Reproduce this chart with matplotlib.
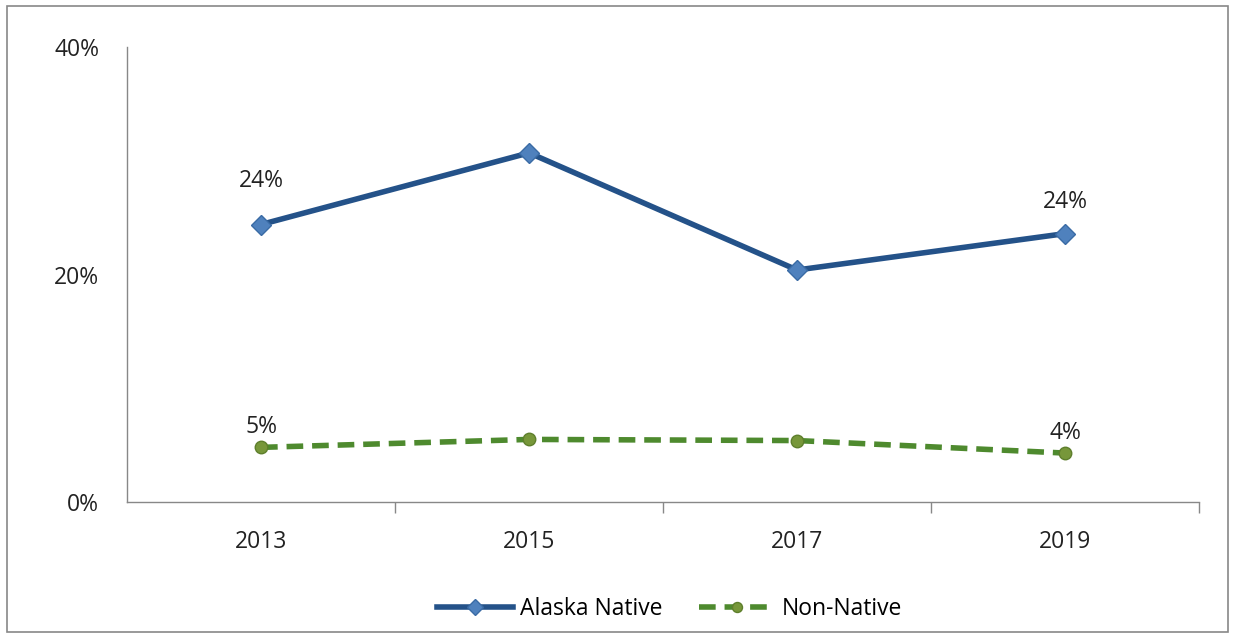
import matplotlib.pyplot as plt
from matplotlib.patches import Rectangle
from matplotlib.ticker import FuncFormatter

plt.rcParams['font.family'] = ['Open Sans', 'DejaVu Sans']

years = ['2013', '2015', '2017', '2019']
alaska_native = [24.4, 30.7, 20.4, 23.6]
non_native = [4.8, 5.5, 5.4, 4.3]
alaska_labels = ['24%', '', '', '24%']
non_native_labels = ['5%', '', '', '4%']

fig = plt.figure(figsize=(12.33, 6.37), dpi=100)
ax = fig.add_axes([0.103, 0.212, 0.8695, 0.714])

x = list(range(len(years)))
ax.plot(x, alaska_native, color='#245289', lw=4, marker='D', ms=10,
        mfc='#4F81BD', mec='#3A6BA5', label='Alaska Native', zorder=3)
ax.plot(x, non_native, color='#4E8A2E', lw=4, ls=(0, (3, 1.6)), marker='o', ms=9,
        mfc='#77973A', mec='#5E7F2C', label='Non-Native', zorder=3)

# label offsets (points) above each marker
alaska_off = [23, 0, 0, 14]
for xi, v, t, off in zip(x, alaska_native, alaska_labels, alaska_off):
    if t:
        ax.annotate(t, (xi, v), xytext=(0, off), textcoords='offset points',
                    ha='center', va='bottom', fontsize=16.5, color='#222222')
for xi, v, t in zip(x, non_native, non_native_labels):
    if t:
        ax.annotate(t, (xi, v), xytext=(0, 6), textcoords='offset points',
                    ha='center', va='bottom', fontsize=16.5, color='#222222')

ax.set_xlim(-0.5, 3.5)
ax.set_ylim(0, 40)
ax.set_yticks([0, 20, 40])
ax.yaxis.set_major_formatter(FuncFormatter(lambda v, p: f'{v:.0f}%'))
ax.set_xticks(x)
ax.set_xticklabels(years)
ax.set_xticks([0.5, 1.5, 2.5, 3.5], minor=True)
ax.tick_params(axis='x', which='major', length=0, pad=20, labelsize=16.5, labelcolor='#222222')
ax.tick_params(axis='x', which='minor', length=8, color='#888888', width=1)
ax.tick_params(axis='y', length=0, pad=20, labelsize=16.5, labelcolor='#222222')

for s in ['top', 'right']:
    ax.spines[s].set_visible(False)
for s in ['left', 'bottom']:
    ax.spines[s].set_color('#888888')
    ax.spines[s].set_linewidth(1)

fig.legend(loc='center', bbox_to_anchor=(0.543, 0.044), ncol=2, frameon=False,
           fontsize=16.5, handlelength=3.3, columnspacing=1.6, handletextpad=0.3,
           markerscale=0.8)

fig.patches.append(Rectangle((0.006, 0.008), 0.99, 0.983, transform=fig.transFigure,
                             fill=False, edgecolor='#888888', lw=1.2))

fig.savefig('out.png', dpi=100)
